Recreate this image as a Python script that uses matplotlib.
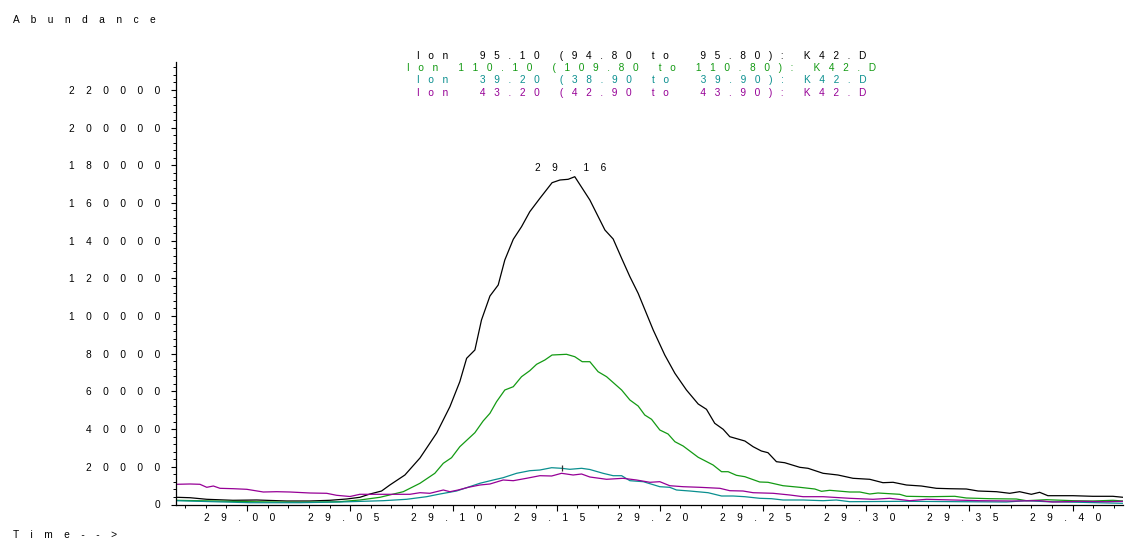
import numpy as np
import matplotlib
matplotlib.use("Agg")
import matplotlib.pyplot as plt
from matplotlib.ticker import MultipleLocator, FuncFormatter
from matplotlib.transforms import ScaledTranslation

plt.rcParams["font.family"] = ["Liberation Sans", "DejaVu Sans"]

# ── data (time in min, abundance) ───────────────────────────────────────
ion95_t = [28.9660, 28.9724, 28.9805, 28.9932, 29.0047, 29.0192, 29.0305, 29.0402,
           29.0483, 29.0547, 29.0596, 29.0652, 29.0692, 29.0765, 29.0838, 29.0919,
           29.0983, 29.1031, 29.1064, 29.1104, 29.1136, 29.1177, 29.1217, 29.1249,
           29.1290, 29.1330, 29.1370, 29.1419, 29.1478, 29.1516, 29.1556, 29.1588,
           29.1661, 29.1734, 29.1774, 29.1815, 29.1855, 29.1895, 29.1968, 29.2024,
           29.2073, 29.2129, 29.2186, 29.2226, 29.2266, 29.2307, 29.2339, 29.2412,
           29.2452, 29.2492, 29.2524, 29.2565, 29.2605, 29.2678, 29.2718, 29.2791,
           29.2863, 29.2936, 29.3017, 29.3081, 29.3130, 29.3195, 29.3267, 29.3340,
           29.3404, 29.3485, 29.3542, 29.3631, 29.3695, 29.3743, 29.3800, 29.3840,
           29.3880, 29.4002, 29.4097, 29.4195, 29.4244]
ion95_v = [3820, 3600, 2760, 2230, 2390, 1860, 1860, 2230,
           2920, 3820, 5570, 7160, 10340, 15650, 24670, 37930,
           51880, 65150, 77560, 81960, 97880, 110610, 116450, 129710,
           140690, 147370, 155330, 162440, 170720, 172150, 172520, 173900,
           161540, 145620, 140850, 130610, 120850, 112040, 92570, 79310,
           69600, 60740, 53310, 50500, 43080, 39890, 35970, 33690,
           30660, 28380, 27480, 22710, 22170, 19730, 19200, 16550,
           15650, 13900, 13370, 11570, 11780, 10340, 9810, 8590,
           8380, 8220, 7160, 6790, 5940, 6790, 5410, 6470,
           4670, 4670, 4350, 4350, 3820]

ion110_t = [28.9656, 29.0015, 29.0257, 29.0450, 29.0547, 29.0644, 29.0757, 29.0838,
            29.0910, 29.0951, 29.0991, 29.1031, 29.1104, 29.1144, 29.1177, 29.1209,
            29.1249, 29.1290, 29.1330, 29.1370, 29.1403, 29.1443, 29.1478, 29.1548,
            29.1588, 29.1624, 29.1661, 29.1701, 29.1742, 29.1815, 29.1855, 29.1895,
            29.1927, 29.1960, 29.2000, 29.2040, 29.2073, 29.2113, 29.2186, 29.2218,
            29.2258, 29.2299, 29.2331, 29.2371, 29.2412, 29.2484, 29.2524, 29.2597,
            29.2678, 29.2751, 29.2783, 29.2823, 29.2920, 29.2969, 29.3017, 29.3057,
            29.3162, 29.3195, 29.3308, 29.3429, 29.3485, 29.3598, 29.3727, 29.3776,
            29.3873, 29.4002, 29.4098, 29.4195, 29.4244]
ion110_v = [2230, 1490, 1170, 1490, 2390, 3820, 6790, 11250,
            16550, 21860, 24830, 30660, 38090, 44300, 48380, 54540,
            60740, 62490, 67800, 70980, 74380, 76660, 79310, 79680,
            78410, 75760, 75760, 70450, 67800, 60740, 55440, 52250,
            47480, 45200, 39520, 37400, 33320, 31030, 25040, 23240,
            20960, 17400, 17400, 15490, 14750, 11940, 11780, 9970,
            9120, 8220, 7000, 7530, 6630, 6630, 5570, 6100,
            5410, 4350, 4140, 4350, 3450, 3080, 2920, 2020,
            2550, 2020, 1860, 2230, 1860]

ion39_t = [28.9656, 29.0015, 29.0257, 29.0450, 29.0660, 29.0773, 29.0870, 29.0935,
           29.1015, 29.1064, 29.1128, 29.1193, 29.1241, 29.1306, 29.1370, 29.1419,
           29.1476, 29.1524, 29.1564, 29.1621, 29.1661, 29.1725, 29.1774, 29.1815,
           29.1855, 29.1920, 29.2000, 29.2048, 29.2081, 29.2145, 29.2234, 29.2299,
           29.2355, 29.2412, 29.2484, 29.2541, 29.2597, 29.2694, 29.2791, 29.2855,
           29.2920, 29.3195, 29.3453, 29.3679, 29.3776, 29.3873, 29.4034, 29.4244]
ion39_v = [2020, 950, 950, 1330, 2020, 2760, 4140, 5570,
           7160, 8910, 11250, 13000, 14220, 16550, 17930, 18300,
           19520, 19200, 18670, 19200, 18570, 16550, 15280, 15280,
           12630, 12100, 9440, 9120, 7690, 7160, 6260, 4510,
           4510, 4140, 3290, 3080, 2390, 2390, 2020, 2390,
           1490, 1700, 1490, 1330, 2020, 1490, 1170, 640]

ion43_t = [28.9660, 28.9724, 28.9772, 28.9805, 28.9837, 28.9869, 28.9934, 28.9999,
           29.0079, 29.0144, 29.0208, 29.0305, 29.0386, 29.0434, 29.0499, 29.0547,
           29.0612, 29.0692, 29.0789, 29.0838, 29.0886, 29.0951, 29.0983, 29.1023,
           29.1072, 29.1128, 29.1177, 29.1241, 29.1290, 29.1354, 29.1419, 29.1476,
           29.1524, 29.1580, 29.1621, 29.1661, 29.1742, 29.1822, 29.1887, 29.1952,
           29.2000, 29.2048, 29.2113, 29.2194, 29.2291, 29.2339, 29.2403, 29.2452,
           29.2549, 29.2630, 29.2694, 29.2791, 29.2920, 29.3033, 29.3114, 29.3211,
           29.3292, 29.3421, 29.3550, 29.3709, 29.3840, 29.3903, 29.4034, 29.4163,
           29.4244]
ion43_v = [10720, 10880, 10720, 9120, 9810, 8590, 8380, 8060,
           6630, 6790, 6630, 6100, 5940, 4880, 4240, 5410,
           5410, 5410, 5410, 6260, 5940, 7690, 6790, 7690,
           9120, 10340, 10880, 13000, 12630, 13900, 15280, 15120,
           16550, 15650, 16180, 14590, 13370, 13900, 13000, 11780,
           12100, 9970, 9440, 9120, 8590, 7320, 7160, 6260,
           5940, 5040, 4140, 4140, 3290, 2760, 3290, 2020,
           2760, 2390, 2020, 1860, 2020, 1330, 1700, 1490,
           1700]

ion_labels = ["Ion  95.10 (94.80 to  95.80): K42.D",
              "Ion 110.10 (109.80 to 110.80): K42.D",
              "Ion  39.20 (38.90 to  39.90): K42.D",
              "Ion  43.20 (42.90 to  43.90): K42.D"]
ion_colors = ["#000000", "#139a13", "#0a8f8f", "#960096"]
marker_t = 29.1524  # small peak marker on the m/z 39 trace

# ── figure ───────────────────────────────────────────────────────────────
FS = 7.3
W, H = 1128, 539


def spaced(s, gap):
    return gap.join(s)


fig = plt.figure(figsize=(W / 100, H / 100), dpi=100)
ax = fig.add_axes([176 / W, 34.5 / H, 947 / W, 442.5 / H])

series = [(ion95_t, ion95_v), (ion110_t, ion110_v), (ion39_t, ion39_v), (ion43_t, ion43_v)]
for (t, v), c in zip(series, ion_colors):
    ax.plot(t, v, color=c, lw=0.9)

ax.set_xlim(28.9656, 29.4244)
ax.set_ylim(0, 234750)

for s in ("top", "right"):
    ax.spines[s].set_visible(False)
for s in ("left", "bottom"):
    ax.spines[s].set_linewidth(0.9)

ax.xaxis.set_major_locator(MultipleLocator(0.05))
ax.xaxis.set_minor_locator(MultipleLocator(0.01))
ax.yaxis.set_major_locator(MultipleLocator(20000))
ax.yaxis.set_minor_locator(MultipleLocator(4000))
ax.xaxis.set_major_formatter(FuncFormatter(lambda v, p: spaced(f"{v:.2f}", "    ")))
ax.yaxis.set_major_formatter(FuncFormatter(lambda v, p: spaced(f"{v:.0f}", "    ")))

ax.tick_params(axis="y", which="major", length=3.6, width=0.8, pad=7.5, labelsize=FS)
ax.tick_params(axis="y", which="minor", length=2.0, width=0.7)
ax.tick_params(axis="x", which="major", length=4.4, width=0.8, pad=1.5, labelsize=FS)
ax.tick_params(axis="x", which="minor", length=2.4, width=0.7)

shift = ScaledTranslation(-5 / 72, 0, fig.dpi_scale_trans)
for lab in ax.get_xticklabels():
    lab.set_transform(lab.get_transform() + shift)

# peak label on the main trace
ipk = int(np.argmax(ion95_v))
ax.annotate(spaced(f"{ion95_t[ipk]:.2f}", "    "), xy=(ion95_t[ipk], ion95_v[ipk]),
            xytext=(-3, 2.5), textcoords="offset points", ha="center", va="bottom",
            fontsize=FS)

im = int(np.argmin(np.abs(np.array(ion39_t) - marker_t)))
ax.plot([ion39_t[im]], [ion39_v[im]], marker="|", ms=5, mew=0.9, color="#333333")

# header texts
fig.text(13 / W, 1 - 20 / H, spaced("Abundance", "    "), ha="left", va="center", fontsize=FS)
fig.text(13 / W, 1 - 535 / H, spaced("Time-->", "    "), ha="left", va="center", fontsize=FS)
for i, (lab, c) in enumerate(zip(ion_labels, ion_colors)):
    fig.text(642 / W, 1 - (56 + 12.2 * i) / H, spaced(lab, "   "), ha="center", va="center",
             fontsize=FS, color=c)

fig.savefig("out.png", dpi=100)
